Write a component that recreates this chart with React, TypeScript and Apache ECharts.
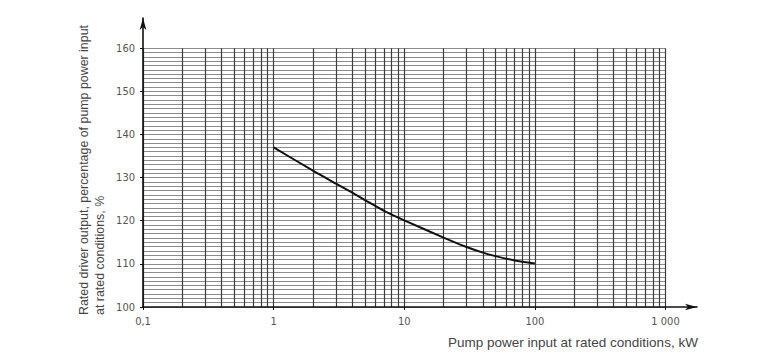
import React, { useEffect, useRef } from "react";
import * as echarts from "echarts";

// Pump power input at rated conditions, kW
const pumpPower = [1, 2, 3, 4, 5, 7, 10, 20, 30, 40, 50, 70, 100];
// Rated driver output, % of pump power input
const ratedOutput = [137, 131.6, 128.6, 126.5, 124.8, 122.3, 120.1, 116.1, 113.9, 112.6, 111.8, 110.8, 110.1];

// Axis ticks
const xMajorTicks = [0.1, 1, 10, 100, 1000];
const xTickLabels = ["0,1", "1", "10", "100", "1 000"];
const xMinorMultipliers = [2, 3, 4, 5, 6, 7, 8, 9];
const yMajorTicks = [100, 110, 120, 130, 140, 150, 160];
const yMinorStep = 1;

const xAxisName = "Pump power input at rated conditions, kW";
const yAxisName = "Rated driver output, percentage of pump power input\nat rated conditions, %";

export default function App() {
  const ref = useRef<HTMLDivElement>(null);
  useEffect(() => {
    document.body.style.margin = "0";
    if (!ref.current) return;
    const chart = echarts.init(ref.current, undefined, { renderer: "svg" });

    const xMin = xMajorTicks[0];
    const xMax = xMajorTicks[xMajorTicks.length - 1];
    const yMin = yMajorTicks[0];
    const yMax = yMajorTicks[yMajorTicks.length - 1];

    // vertical grid lines
    const xGridValues: number[] = [];
    for (let i = 0; i < xMajorTicks.length; i++) {
      xGridValues.push(xMajorTicks[i]);
      if (i < xMajorTicks.length - 1) {
        for (const m of xMinorMultipliers) xGridValues.push(xMajorTicks[i] * m);
      }
    }
    const vLines = xGridValues.map((v) => [
      { coord: [v, yMin] },
      { coord: [v, yMax] },
    ]);
    const yGridValues: number[] = [];
    for (let v = yMin; v <= yMax; v += yMinorStep) yGridValues.push(v);
    const hLines = yGridValues.map((v) => [
      { coord: [xMin, v] },
      { coord: [xMax, v] },
    ]);

    chart.setOption({
      animation: false,
      backgroundColor: "#ffffff",
      grid: {
        left: 143,
        right: 80,
        top: 18,
        bottom: 56,
        containLabel: false,
        outerBoundsMode: "none",
      },
      xAxis: {
        type: "log",
        logBase: 10,
        min: xMin,
        max: 1742,
        z: 10,
        axisLine: {
          show: true,
          lineStyle: { color: "#111", width: 1.6 },
          symbol: ["none", "arrow"],
          symbolSize: [5, 12],
        },
        axisTick: {
          show: true,
          length: 3,
          inside: false,
          customValues: xMajorTicks,
          lineStyle: { color: "#111", width: 1 },
        },
        axisLabel: {
          show: true,
          customValues: xMajorTicks,
          margin: 9,
          fontFamily: "'DejaVu Sans Condensed', 'Liberation Sans Narrow', sans-serif",
          fontSize: 11,
          color: "#555",
          formatter: (v: number) => {
            let best = 0;
            let bd = Infinity;
            xMajorTicks.forEach((t, i) => {
              const d = Math.abs(Math.log10(t) - Math.log10(v));
              if (d < bd) {
                bd = d;
                best = i;
              }
            });
            return bd < 0.01 ? xTickLabels[best] : "";
          },
        },
        splitLine: { show: false },
        minorSplitLine: { show: false },
      },
      yAxis: {
        type: "value",
        min: yMin,
        max: 167,
        z: 10,
        axisLine: {
          show: true,
          onZero: false,
          lineStyle: { color: "#111", width: 1.6 },
          symbol: ["none", "arrow"],
          symbolSize: [5, 12],
        },
        axisTick: {
          show: true,
          length: 3,
          customValues: yMajorTicks,
          lineStyle: { color: "#111", width: 1 },
        },
        axisLabel: {
          show: true,
          customValues: yMajorTicks,
          margin: 8,
          fontFamily: "'DejaVu Sans Condensed', 'Liberation Sans Narrow', sans-serif",
          fontSize: 11,
          color: "#555",
        },
        splitLine: { show: false },
      },
      graphic: [
        {
          type: "text",
          x: 75.5,
          y: 315,
          rotation: Math.PI / 2,
          style: {
            text: yAxisName,
            font: "12.4px 'Liberation Sans', Arial, sans-serif",
            fill: "#444",
            textAlign: "left",
            textVerticalAlign: "top",
            lineHeight: 16,
          },
        },
        {
          type: "text",
          x: 448,
          y: 342,
          style: {
            text: xAxisName,
            font: "13.5px 'Liberation Sans', Arial, sans-serif",
            fill: "#444",
            textAlign: "left",
            textVerticalAlign: "middle",
          },
        },
      ],
      series: [
        {
          name: "hgrid",
          type: "line",
          data: [],
          z: 1,
          silent: true,
          markLine: {
            silent: true,
            symbol: ["none", "none"],
            label: { show: false },
            animation: false,
            lineStyle: { color: "#8c8c8c", width: 1, type: "solid" },
            data: hLines,
          },
        },
        {
          name: "vgrid",
          type: "line",
          data: [],
          z: 1,
          silent: true,
          markLine: {
            silent: true,
            symbol: ["none", "none"],
            label: { show: false },
            animation: false,
            lineStyle: { color: "#3c3c3c", width: 1.2, type: "solid" },
            data: vLines,
          },
        },
        {
          name: "Rated driver output",
          type: "line",
          z: 5,
          smooth: 0.25,
          symbol: "none",
          lineStyle: { color: "#111", width: 2 },
          data: pumpPower.map((p, i) => [p, ratedOutput[i]]),
        },
      ],
    });
    return () => chart.dispose();
  }, []);
  return <div ref={ref} style={{ width: 777, height: 363 }} />;
}
